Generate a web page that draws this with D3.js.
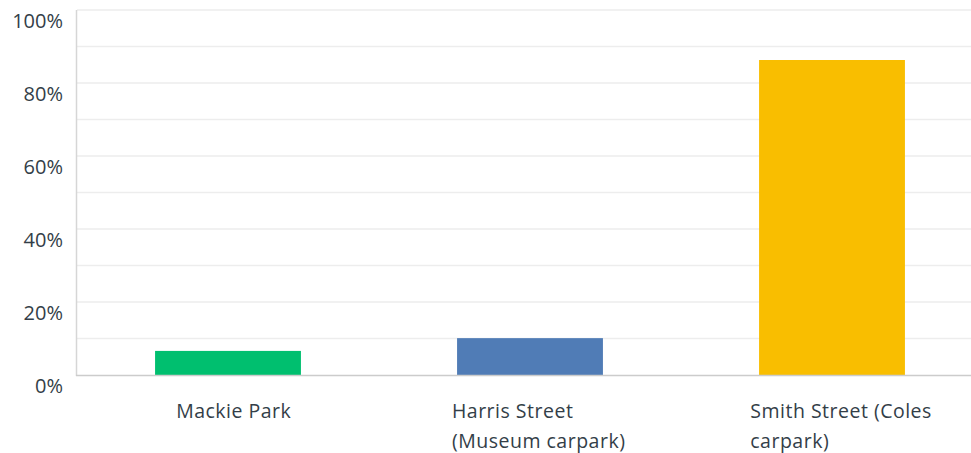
<!DOCTYPE html>
<html><head><meta charset="utf-8">
<script src="https://cdn.jsdelivr.net/npm/d3@7"></script>
<style>html,body{margin:0;padding:0;background:#fff;overflow:hidden}</style>
</head><body>
<svg id="chart" width="971" height="453"></svg>
<script>
const categories = [["Mackie Park"], ["Harris Street", "(Museum carpark)"], ["Smith Street (Coles", "carpark)"]];
const values = [6.6, 10.1, 86.3];
const colors = ["#00bf6f", "#507cb6", "#f9be00"];
const tickValues = [0, 20, 40, 60, 80, 100];
const gridValues = [10, 20, 30, 40, 50, 60, 70, 80, 90, 100];

(function () {
const svg = d3.select("#chart");
const font = "'Open Sans', sans-serif";
const textColor = "#333e48";
const mLeft = 77, mRight = 983, mTop = 10, mBottom = 375;

const y = d3.scaleLinear().domain([0, 100]).range([mBottom, mTop]);
const x = d3.scaleBand().domain(d3.range(values.length)).range([mLeft, mRight]).paddingInner(0.517).paddingOuter(0.2585);

svg.append("g").selectAll("line").data(gridValues).join("line")
  .attr("x1", mLeft).attr("x2", 971).attr("y1", d => y(d)).attr("y2", d => y(d))
  .attr("stroke", "#ededed").attr("stroke-width", 1.5);

svg.append("g").selectAll("rect").data(values).join("rect")
  .attr("x", (d, i) => x(i)).attr("width", x.bandwidth())
  .attr("y", d => y(d)).attr("height", d => y(0) - y(d))
  .attr("fill", (d, i) => colors[i]);

svg.append("line").attr("x1", mLeft - 0.5).attr("x2", mLeft - 0.5).attr("y1", mTop).attr("y2", mBottom + 1)
  .attr("stroke", "#d6d6d6").attr("stroke-width", 1.5);
svg.append("line").attr("x1", mLeft - 1).attr("x2", 971).attr("y1", mBottom + 0.5).attr("y2", mBottom + 0.5)
  .attr("stroke", "#cccccc").attr("stroke-width", 1.5);

svg.append("g").selectAll("text").data(tickValues).join("text")
  .attr("x", 63).attr("y", d => y(d) + 18)
  .attr("text-anchor", "end")
  .attr("font-family", font).attr("font-size", 20).attr("fill", textColor)
  .text(d => d + "%");

const lab = svg.append("g").selectAll("text").data(categories).join("text")
  .attr("font-family", font).attr("font-size", 19.5).attr("letter-spacing", 0.5).attr("fill", textColor);
lab.each(function(lines, i) {
  const t = d3.select(this);
  lines.forEach((l, j) => {
    t.append("tspan").attr("y", 418 + j * 30).text(l);
  });
  const w = d3.max(t.selectAll("tspan").nodes(), n => n.getComputedTextLength());
  const cx = x(i) + x.bandwidth() / 2;
  t.selectAll("tspan").attr("x", cx - 0.45 * w);
});
})();
</script>
</body></html>
